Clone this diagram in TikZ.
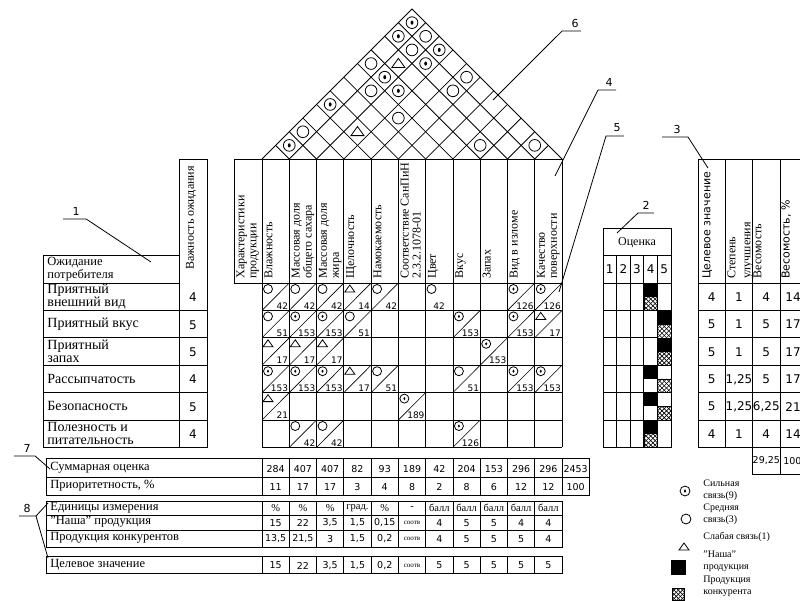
\documentclass[tikz,border=0pt]{standalone}
\usepackage{fontspec}
\setmainfont{Liberation Serif}
\newfontfamily\numfont{DejaVu Sans}
\usetikzlibrary{patterns}

\tikzset{
  lbl/.style={font=\fontsize{12.5}{12.5}\selectfont, inner sep=0pt, align=left, anchor=west},
  rowlbl/.style={font=\fontsize{14}{13}\selectfont, inner sep=0pt, align=left, anchor=west},
  hdr/.style={rotate=90, anchor=north west, inner sep=1pt, align=left, font=\fontsize{12}{12}\selectfont},
  num/.style={font=\numfont\fontsize{9}{9}\selectfont, inner sep=0pt},
  val/.style={font=\numfont\fontsize{9.5}{9.5}\selectfont, inner sep=0pt},
  bignum/.style={font=\numfont\fontsize{12}{12}\selectfont, inner sep=0pt},
  unit/.style={font=\fontsize{10.5}{10.5}\selectfont, inner sep=0pt},
  tiny/.style={font=\fontsize{7}{7}\selectfont, inner sep=0pt},
  legend/.style={font=\fontsize{10}{12}\selectfont, inner sep=0pt, align=left, anchor=west},
  callout/.style={font=\numfont\fontsize{11}{11}\selectfont, inner sep=3.5pt},
  symS/.pic={\draw (0,0) circle (4.5pt); \fill (0,0) ellipse [x radius=1.1pt, y radius=1.6pt];},
  symM/.pic={\draw (0,0) circle (4.5pt);},
  symW/.pic={\draw (-5pt,-3pt) -- (5pt,-3pt) -- (0,4pt) -- cycle;},
  rivalsq/.pic={
    \fill[white] (0,0) rectangle (13.6pt,-13.7pt);
    \begin{scope}
      \clip (0,0) rectangle (13.6pt,-13.7pt);
      \foreach \tt in {-13.5,-9,...,13.5} {
        \draw[line width=0.6pt] (\tt pt,0) -- ++(13.7pt,-13.7pt);
        \draw[line width=0.6pt] (\tt pt,-13.7pt) -- ++(13.7pt,13.7pt);
      }
    \end{scope}
    \draw[line width=0.6pt] (0,0) rectangle (13.6pt,-13.7pt);
  }
}

\begin{document}
\begin{tikzpicture}[x=1pt,y=-1pt,line width=0.8pt]
\useasboundingbox (0,0) rectangle (800,600);

% roof: correlation of characteristics
\draw (262,159) -- (412,9) -- (562,159);
\foreach \kk in {1,...,10}{
  \pgfmathsetmacro\xb{262+27.273*\kk}
  \pgfmathsetmacro\dr{(562-\xb)/2}
  \pgfmathsetmacro\dl{(\xb-262)/2}
  \draw (\xb,159) -- ++(\dr,-\dr);
  \draw (\xb,159) -- ++(-\dl,-\dl);
}
\foreach \ii/\jj/\sy in {1/11/S, 1/10/S, 2/11/M, 2/10/M, 3/11/S, 1/8/M, 2/9/W, 3/10/S,
    2/8/S, 5/11/M, 2/7/M, 3/8/S, 5/10/M, 1/5/S, 4/7/M, 1/3/M, 3/5/W, 1/2/S, 8/9/M, 10/11/M}
  \pic[scale=1.3] at ({262+27.273*((\ii+\jj)/2-0.5)},{159-13.636*(\jj-\ii)}) {sym\sy};

% characteristics header and matrix grid
\draw (234,159) -- (562,159);
\draw (234,283) -- (562,283);
\draw (234,159) -- (234,283);
\foreach \kk in {0,...,11}
  \draw (262+27.273*\kk,159) -- (262+27.273*\kk,447.4);
\foreach \ri in {1,...,6}
  \draw (262,283+27.4*\ri) -- (562,283+27.4*\ri);
\node[hdr] (hchar) at (235,280) {Характеристики\\продукции};
\foreach \ci/\txt in {1/Влажность, 2/{Массовая доля\\общего сахара}, 3/{Массовая доля\\жира},
    4/Щелочность, 5/Намокаемость, 6/{Соответствие СанПиН\\2.3.2.1078-01}, 7/Цвет,
    8/Вкус, 9/Запах, 10/Вид в изломе, 11/{Качество\\поверхности}}
  \node[hdr] (h\ci) at (263+27.273*\ci-27.273,280) {\txt};

% relationship matrix
\foreach \ri/\ci/\sy/\nv in {1/1/M/42, 1/2/M/42, 1/3/M/42, 1/4/W/14, 1/5/M/42, 1/10/S/126, 1/11/S/126,
    2/1/M/51, 2/2/S/153, 2/3/S/153, 2/4/M/51, 2/8/S/153, 2/10/S/153, 2/11/W/17,
    3/1/W/17, 3/2/W/17, 3/3/W/17, 3/9/S/153,
    4/1/S/153, 4/2/S/153, 4/3/S/153, 4/4/W/17, 4/5/M/51, 4/8/M/51, 4/10/S/153, 4/11/S/153,
    5/1/W/21, 5/6/S/189,
    6/2/M/42, 6/3/M/42, 6/8/S/126}{
  \pgfmathsetmacro\xl{262+27.273*(\ci-1)}
  \pgfmathsetmacro\yt{283+27.4*(\ri-1)}
  \draw[line width=0.6pt] (\xl,\yt+27.4) -- (\xl+27.273,\yt);
  \pic at (\xl+6,\yt+6) {sym\sy};
  \node[num,anchor=base east] (m\ri-\ci) at (\xl+26.5,\yt+26) {\nv};
}
\pic at (431.5,289) {symM};
\node[num,anchor=base] (m1-7) at (439,309) {42};

% customer requirements
\draw (179,159) rectangle (207,447.4);
\draw (43,255) rectangle (179,283);
\draw (43,283) -- (43,447.4);
\foreach \ri in {1,...,6}
  \draw (43,283+27.4*\ri) -- (207,283+27.4*\ri);
\node[lbl] (req) at (47,269) {Ожидание\\потребителя};
\node[rotate=90,inner sep=0pt,font=\fontsize{12}{12}\selectfont] (imp) at (191,218) {Важность ожидания};
\foreach \ri/\txt/\w in {1/{Приятный\\внешний вид}/4, 2/Приятный вкус/5, 3/{Приятный\\запах}/5,
    4/Рассыпчатость/4, 5/Безопасность/5, 6/{Полезность и\\питательность}/4}{
  \node[rowlbl] (e\ri) at (47,269.3+27.4*\ri) {\txt};
  \node[bignum] (w\ri) at (193,270+27.4*\ri) {\w};
}

% competitive rating
\draw (603,228) rectangle (671,447.4);
\draw (603,255) -- (671,255);
\draw (603,283) -- (671,283);
\foreach \kk in {1,...,4}
  \draw (603+13.6*\kk,255) -- (603+13.6*\kk,447.4);
\foreach \ri in {1,...,5}
  \draw (603,283+27.4*\ri) -- (671,283+27.4*\ri);
\node[font=\fontsize{12}{12}\selectfont] (rate) at (637,243) {Оценка};
\foreach \kk in {1,...,5}
  \node[bignum] (g\kk) at (596.2+13.6*\kk,269) {\kk};
\foreach \ri/\our/\riv in {1/4/4, 2/5/5, 3/5/5, 4/4/5, 5/4/5, 6/4/4}{
  \pgfmathsetmacro\yt{283+27.4*(\ri-1)}
  \fill (589.4+13.6*\our,\yt) rectangle ++(13.6,13.7);
  \pic at (589.4+13.6*\riv,\yt+13.7) {rivalsq};
}

% target values and weights
\draw (698,159) rectangle (807,447.4);
\draw (698,283) -- (807,283);
\foreach \xx in {725.3,752.6,780}
  \draw (\xx,159) -- (\xx,447.4);
\foreach \ri in {1,...,5}
  \draw (698,283+27.4*\ri) -- (807,283+27.4*\ri);
\draw (752.6,447.4) -- (752.6,474) -- (807,474);
\draw (780,447.4) -- (780,474);
\node[hdr,font=\numfont\fontsize{11}{11}\selectfont] (t1) at (701,280) {Целевое значение};
\node[hdr,font=\fontsize{12}{15}\selectfont] (t2) at (726,280) {Степень\\улучшения};
\node[hdr] (t3) at (752,280) {Весомость};
\node[hdr,font=\numfont\fontsize{11}{11}\selectfont] (t4) at (780,280) {Весомость, \%};
\foreach \ri/\a/\b/\cc/\d in {1/4/1/4/14, 2/5/1/5/17, 3/5/1/5/17, 4/5/{1,25}/5/17,
    5/5/{1,25}/{6,25}/21, 6/4/1/4/14}{
  \node[bignum] (ra\ri) at (711.7,269.7+27.4*\ri) {\a};
  \node[bignum] (rb\ri) at (739,269.7+27.4*\ri) {\b};
  \node[bignum] (rc\ri) at (766.3,269.7+27.4*\ri) {\cc};
  \node[bignum,anchor=west] (rd\ri) at (785,269.7+27.4*\ri) {\d};
}
\node[val] (wsum) at (766.3,461) {29,25};
\node[val,anchor=west] (wpct) at (783,461) {100};

% summary rows
\draw (46,458) rectangle (589,495);
\draw (46,477) -- (589,477);
\foreach \kk in {0,...,11}
  \draw (262+27.273*\kk,458) -- (262+27.273*\kk,495);
\node[lbl] (sumlbl) at (50,468) {Суммарная оценка};
\node[lbl] (prilbl) at (50,486) {Приоритетность, \%};
\foreach \ci/\a/\b in {1/284/11, 2/407/17, 3/407/17, 4/82/3, 5/93/4, 6/189/8, 7/42/2,
    8/204/8, 9/153/6, 10/296/12, 11/296/12, 12/2453/100}{
  \node[val] (s\ci) at (248.4+27.273*\ci,469) {\a};
  \node[val] (p\ci) at (248.4+27.273*\ci,487) {\b};
}

% technical data of the product
\draw (46,501) rectangle (562,547);
\draw (46,515) -- (562,515);
\draw (46,530) -- (562,530);
\draw (46,556) rectangle (562,573);
\foreach \kk in {0,...,10} {
  \draw (262+27.273*\kk,501) -- (262+27.273*\kk,547);
  \draw (262+27.273*\kk,556) -- (262+27.273*\kk,573);
}
\node[lbl] (unitlbl) at (50,508) {Единицы измерения};
\node[lbl] (ourlbl) at (50,522) {"Наша" продукция};
\node[lbl] (rivlbl) at (50,538) {Продукция конкурентов};
\node[lbl] (tgtlbl) at (50,565) {Целевое значение};
\foreach \ci/\u/\a/\b/\g in {1/\%/15/{13,5}/15, 2/\%/22/{21,5}/22, 3/\%/{3,5}/3/{3,5},
    4/град./{1,5}/{1,5}/{1,5}, 5/\%/{0,15}/{0,2}/{0,2}, 7/балл/4/4/5, 8/балл/5/5/5,
    9/балл/5/5/5, 10/балл/4/5/5, 11/балл/4/4/5}{
  \node[unit] (u\ci) at (248.4+27.273*\ci,508) {\u};
  \node[val] (o\ci) at (248.4+27.273*\ci,523) {\a};
  \node[val] (k\ci) at (248.4+27.273*\ci,539) {\b};
  \node[val] (z\ci) at (248.4+27.273*\ci,565.5) {\g};
}
\node[unit] (u6) at (412,508) {-};
\node[tiny] (o6) at (412,523) {соотв};
\node[tiny] (k6) at (412,539) {соотв};
\node[tiny] (z6) at (412,565.5) {соотв};

% legend
\pic[scale=1.1] at (685,491) {symS};
\node[legend] (lg1) at (703,490) {Сильная\\связь(9)};
\pic[scale=1.1] at (686,519) {symM};
\node[legend] (lg2) at (703,514) {Средняя\\связь(3)};
\pic at (684,547) {symW};
\node[legend] (lg3) at (703,537) {Слабая связь(1)};
\fill (671,560) rectangle (686,575);
\node[legend] (lg4) at (703,561) {"Наша"\\продукция};
\pic[scale=0.92] at (672,588) {rivalsq};
\node[legend] (lg5) at (703,586) {Продукция\\конкурента};

% callouts
\node[callout] (c1) at (76,211) {1};
\coordinate (c1t) at (151,262);
\draw ([xshift=-13pt]c1.south) -- ([xshift=10pt]c1.south) -- (c1t);
\node[callout] (c2) at (646,205) {2};
\coordinate (c2t) at (617,233);
\draw (c2t) -- ([xshift=-8pt]c2.south) -- ([xshift=8pt]c2.south);
\node[callout] (c3) at (677,129) {3};
\coordinate (c3t) at (708,168);
\draw ([xshift=-15pt]c3.south) -- ([xshift=11pt]c3.south) -- (c3t);
\node[callout] (c4) at (609,82) {4};
\coordinate (c4t) at (555,176);
\draw (c4t) -- ([xshift=-11pt]c4.south) -- ([xshift=7pt]c4.south);
\node[callout] (c5) at (617,128) {5};
\coordinate (c5t) at (559,292);
\draw (c5t) -- ([xshift=-11pt]c5.south) -- ([xshift=7pt]c5.south);
\node[callout] (c6) at (575,23) {6};
\coordinate (c6t) at (493,100);
\draw (c6t) -- ([xshift=-13pt]c6.south) -- ([xshift=6pt]c6.south);
\node[callout] (c7) at (27,448) {7};
\coordinate (c7t) at (50,469);
\draw ([xshift=-13pt]c7.south) -- ([xshift=8pt]c7.south) -- (c7t);
\node[callout] (c8) at (27,508) {8};
\coordinate (c8a) at (48,503);
\coordinate (c8b) at (48,558);
\draw ([xshift=-8pt]c8.south) -- ([xshift=9pt]c8.south) -- (c8a);
\draw ([xshift=9pt]c8.south) -- (c8b);
\end{tikzpicture}
\end{document}
